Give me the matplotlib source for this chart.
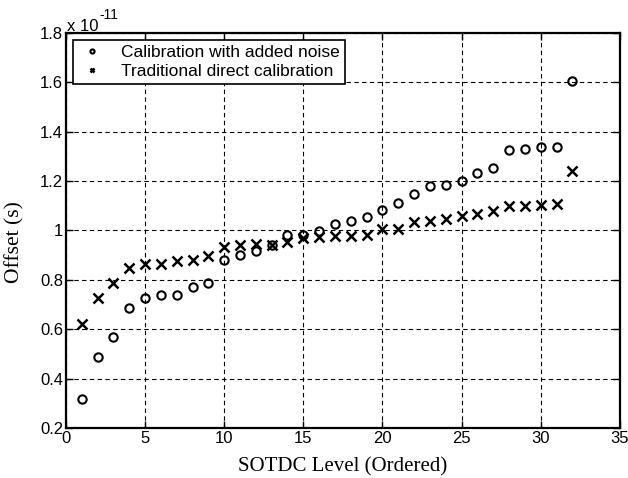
import matplotlib
matplotlib.use('Agg')
from matplotlib import pyplot as plt
from matplotlib.ticker import FuncFormatter

# SOTDC levels and offsets (in units of 1e-11 s)
levels = list(range(1, 33))
noise_cal = [0.319, 0.486, 0.569, 0.685, 0.725, 0.738, 0.738, 0.772, 0.788, 0.879,
             0.899, 0.917, 0.940, 0.980, 0.983, 0.997, 1.027, 1.040, 1.055, 1.083,
             1.110, 1.148, 1.181, 1.184, 1.200, 1.232, 1.255, 1.325, 1.332, 1.338,
             1.338, 1.604]
direct_cal = [0.620, 0.728, 0.789, 0.847, 0.866, 0.866, 0.875, 0.879, 0.898, 0.933,
              0.942, 0.944, 0.940, 0.953, 0.970, 0.973, 0.977, 0.978, 0.980, 1.005,
              1.005, 1.034, 1.038, 1.047, 1.059, 1.067, 1.080, 1.100, 1.100, 1.105,
              1.107, 1.240]

fig = plt.figure(figsize=(6.28, 4.78), dpi=100)
ax = fig.add_axes([0.105, 0.1046, 0.882, 0.8264])

ax.plot(levels, noise_cal, 'o', mfc='none', mec='k', mew=1.5, ms=6,
        label='Calibration with added noise')
ax.plot(levels, direct_cal, 'x', color='k', mew=1.8, ms=6.5,
        label='Traditional direct calibration')

ax.set_xlim(0, 35)
ax.set_ylim(0.2, 1.8)
ax.set_xticks(range(0, 36, 5))
ax.set_yticks([0.2, 0.4, 0.6, 0.8, 1.0, 1.2, 1.4, 1.6, 1.8])
ax.yaxis.set_major_formatter(FuncFormatter(lambda v, p: '%g' % round(v, 2)))
ax.grid(True, color='k', linestyle=(0, (4, 3)), linewidth=0.8)
ax.tick_params(direction='in', top=True, right=True, length=5, width=1,
               labelsize=12, pad=2)
for lab in ax.get_xticklabels() + ax.get_yticklabels():
    lab.set_family('Liberation Sans')
for s in ax.spines.values():
    s.set_linewidth(1.6)

ax.set_xlabel('SOTDC Level (Ordered)', family='Liberation Serif', size=15, labelpad=8)
ax.set_ylabel('Offset (s)', family='Liberation Serif', size=15.5, labelpad=4)
ax.yaxis.set_label_coords(-0.075, 0.47)

# MATLAB style exponent label
fig.text(67 / 628, 1 - 31 / 478, 'x 10', family='Liberation Sans', size=12,
         ha='left', va='baseline')
fig.text(99 / 628, 1 - 19 / 478, '-11', family='Liberation Sans', size=10,
         ha='left', va='baseline')

leg = ax.legend(loc='upper left', fancybox=False, edgecolor='k', framealpha=1,
                prop={'family': 'Liberation Sans', 'size': 12.5}, markerscale=0.5,
                borderaxespad=0.4, handletextpad=0.9, handlelength=1.6,
                borderpad=0.3, labelspacing=0.2)
leg.get_frame().set_linewidth(1.2)

plt.savefig('out.png', dpi=100)
